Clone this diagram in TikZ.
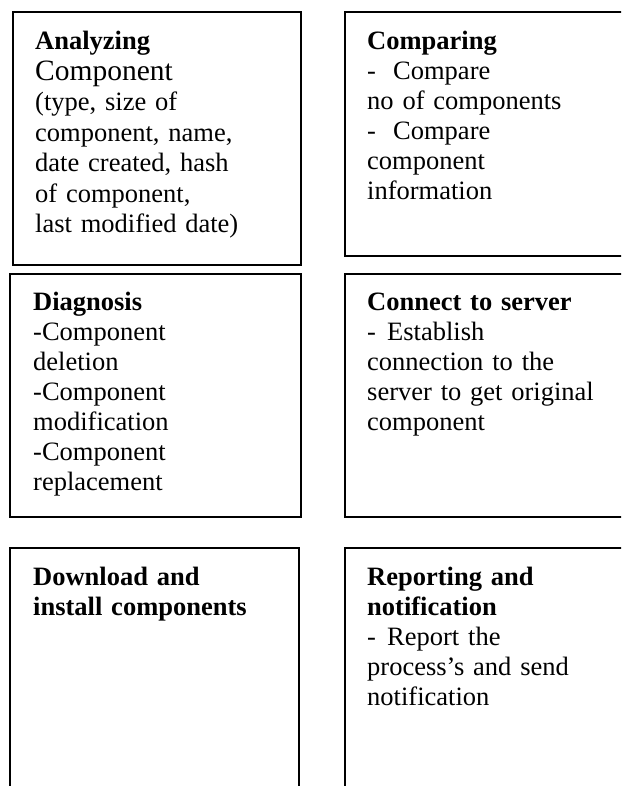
\documentclass[tikz,border=0pt]{standalone}
\usepackage{fontspec}
\setmainfont{Liberation Serif}
\usetikzlibrary{positioning}

\newcommand{\dashtab}[1][20pt]{\makebox[#1][l]{-}}

\tikzset{
  stage/.style={draw, line width=2pt, inner sep=0pt, anchor=north west},
  stagetext/.style={inner sep=0pt, anchor=base west, align=left, text width=250pt,
    font=\fontsize{26.5}{30}\selectfont},
}

\begin{document}
\begin{tikzpicture}[x=1pt,y=-1pt]
  \useasboundingbox (0,0) rectangle (621,786);
  \clip (0,0) rectangle (621,786);

  % Left column
  \node[stage, minimum width=288pt, minimum height=253pt] (analyze) at (12,11) {};
  \node[stage, minimum width=291pt, minimum height=243pt] (diagnose) at (9,273) {};
  \node[stage, minimum width=289pt, minimum height=260pt] (download) at (9,547) {};

  % Right column, running off the page
  \node[stage, minimum width=300pt, minimum height=244pt] (compare) at (344,11) {};
  \node[stage, minimum width=300pt, minimum height=243pt] (connect) at (344,273) {};
  \node[stage, minimum width=300pt, minimum height=260pt] (report) at (344,547) {};

  % Texts
  \node[stagetext, font=\fontsize{26.5}{30.5}\selectfont] (analyzeText) at ([shift={(23pt,-39pt)}]analyze.north west)
    {\textbf{Analyzing}\\
     {\fontsize{29.5}{30.5}\selectfont Component}\\
     (type, size of\\
     component, name,\\
     date created, hash\\
     of component,\\
     last modified date)};
  \node[stagetext] (diagnoseText) at ([shift={(24pt,-37pt)}]diagnose.north west)
    {\textbf{Diagnosis}\\
     -Component\\
     deletion\\
     -Component\\
     modification\\
     -Component\\
     replacement};
  \node[stagetext] (downloadText) at ([shift={(24pt,-38pt)}]download.north west)
    {\textbf{Download and}\\
     \textbf{install components}};

  \node[stagetext] (compareText) at ([shift={(23pt,-39pt)}]compare.north west)
    {\textbf{Comparing}\\
     \dashtab[26pt]Compare\\
     no of components\\
     \dashtab[26pt]Compare\\
     component\\
     information};
  \node[stagetext] (connectText) at ([shift={(23pt,-37pt)}]connect.north west)
    {\textbf{Connect to server}\\
     \dashtab Establish\\
     connection to the\\
     server to get original\\
     component};
  \node[stagetext] (reportText) at ([shift={(23pt,-38pt)}]report.north west)
    {\textbf{Reporting and}\\
     \textbf{notification}\\
     \dashtab Report the\\
     process’s and send\\
     notification};
\end{tikzpicture}
\end{document}
